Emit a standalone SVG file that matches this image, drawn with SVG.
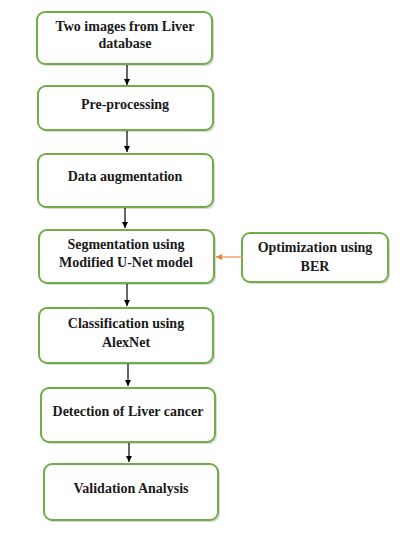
<svg xmlns="http://www.w3.org/2000/svg" width="400" height="533" viewBox="0 0 400 533">
<style>
.box{fill:#fff;stroke:#70AD47;stroke-width:2}
.sh{fill:#bfbfbf;opacity:0.6}
text{font-family:'Liberation Serif','DejaVu Serif','Times New Roman',serif;font-weight:bold;font-size:14px;fill:#1a1a1a;text-anchor:middle}
.c{stroke:#000;stroke-width:1.2;fill:none}
.o{stroke:#F4A070;stroke-width:1.5;fill:none}
</style>
<defs>
<marker id="ah" markerWidth="8" markerHeight="8" refX="6" refY="4" orient="auto" markerUnits="userSpaceOnUse"><path d="M0,1 L6,4 L0,7 Z" fill="#000"/></marker>
<marker id="ao" markerWidth="8" markerHeight="8" refX="6" refY="4" orient="auto" markerUnits="userSpaceOnUse"><path d="M0,1 L6,4 L0,7 Z" fill="#ED7D31"/></marker>
</defs>
<rect width="400" height="533" fill="#fff"/>
<g id="n1"><rect class="sh" x="39" y="14" width="175" height="52" rx="8"/><rect class="box" x="37" y="12" width="175" height="52" rx="8"/><text x="125" y="31">Two images from Liver</text><text x="125" y="48">database</text></g>
<g id="n2"><rect class="sh" x="40" y="88" width="175" height="44" rx="8"/><rect class="box" x="38" y="86" width="175" height="44" rx="8"/><text x="125" y="109">Pre-processing</text></g>
<g id="n3"><rect class="sh" x="40" y="156" width="175" height="53" rx="8"/><rect class="box" x="38" y="154" width="175" height="53" rx="8"/><text x="125" y="181">Data augmentation</text></g>
<g id="n4"><rect class="sh" x="41" y="232" width="175" height="53" rx="8"/><rect class="box" x="39" y="230" width="175" height="53" rx="8"/><text x="126" y="249">Segmentation using</text><text x="126" y="267">Modified U-Net model</text></g>
<g id="n5"><rect class="sh" x="244" y="235" width="146" height="49" rx="8"/><rect class="box" x="242" y="233" width="146" height="49" rx="8"/><text x="315" y="252">Optimization using</text><text x="315" y="271">BER</text></g>
<g id="n6"><rect class="sh" x="41" y="310" width="174" height="55" rx="8"/><rect class="box" x="39" y="308" width="174" height="55" rx="8"/><text x="126" y="328">Classification using</text><text x="126" y="347">AlexNet</text></g>
<g id="n7"><rect class="sh" x="43" y="390" width="174" height="54" rx="8"/><rect class="box" x="41" y="388" width="174" height="54" rx="8"/><text x="128" y="416">Detection of Liver cancer</text></g>
<g id="n8"><rect class="sh" x="46" y="466" width="174" height="56" rx="8"/><rect class="box" x="44" y="464" width="174" height="56" rx="8"/><text x="131" y="493">Validation Analysis</text></g>
<g id="connectors">
<line class="c" x1="127" y1="65" x2="127" y2="85" marker-end="url(#ah)"/>
<line class="c" x1="127" y1="131" x2="127" y2="152" marker-end="url(#ah)"/>
<line class="c" x1="125" y1="208" x2="125" y2="228" marker-end="url(#ah)"/>
<line class="c" x1="127" y1="284" x2="127" y2="306" marker-end="url(#ah)"/>
<line class="c" x1="128" y1="364" x2="128" y2="386" marker-end="url(#ah)"/>
<line class="c" x1="129" y1="443" x2="129" y2="462" marker-end="url(#ah)"/>
<line class="o" x1="242" y1="257" x2="216" y2="257" marker-end="url(#ao)"/>
</g>
</svg>
